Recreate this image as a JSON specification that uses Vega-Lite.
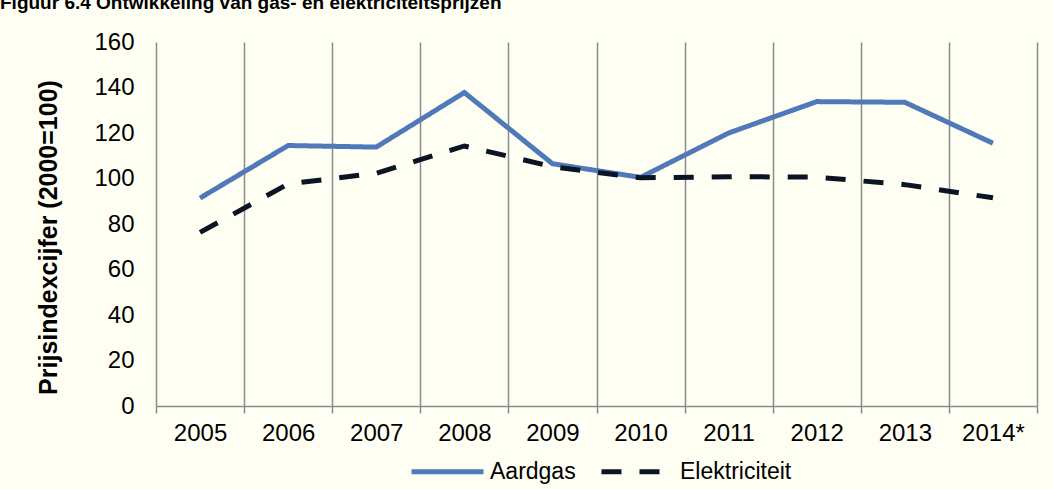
{
  "$schema": "https://vega.github.io/schema/vega-lite/v6.json",
  "autosize": "none",
  "width": 881,
  "height": 364,
  "padding": {"left": 156, "top": 42, "right": 16, "bottom": 83},
  "background": "#FEFEF3",
  "title": {
    "text": "Figuur 6.4 Ontwikkeling van gas- en elektriciteitsprijzen",
    "anchor": "start",
    "frame": "group",
    "orient": "top",
    "baseline": "bottom",
    "offset": -2,
    "dx": -156,
    "font": "Liberation Sans",
    "fontSize": 19,
    "fontWeight": "bold",
    "color": "#000000"
  },
  "data": {
    "values": [
      {"jaar": "2005", "reeks": "Aardgas", "index": 91.4},
      {"jaar": "2006", "reeks": "Aardgas", "index": 114.5},
      {"jaar": "2007", "reeks": "Aardgas", "index": 113.8},
      {"jaar": "2008", "reeks": "Aardgas", "index": 137.8},
      {"jaar": "2009", "reeks": "Aardgas", "index": 106.5},
      {"jaar": "2010", "reeks": "Aardgas", "index": 100.5},
      {"jaar": "2011", "reeks": "Aardgas", "index": 120.0},
      {"jaar": "2012", "reeks": "Aardgas", "index": 133.8},
      {"jaar": "2013", "reeks": "Aardgas", "index": 133.5},
      {"jaar": "2014*", "reeks": "Aardgas", "index": 115.5},
      {"jaar": "2005", "reeks": "Elektriciteit", "index": 76.3},
      {"jaar": "2006", "reeks": "Elektriciteit", "index": 97.6},
      {"jaar": "2007", "reeks": "Elektriciteit", "index": 102.3},
      {"jaar": "2008", "reeks": "Elektriciteit", "index": 114.3},
      {"jaar": "2009", "reeks": "Elektriciteit", "index": 105.2},
      {"jaar": "2010", "reeks": "Elektriciteit", "index": 100.3},
      {"jaar": "2011", "reeks": "Elektriciteit", "index": 100.8},
      {"jaar": "2012", "reeks": "Elektriciteit", "index": 100.6},
      {"jaar": "2013", "reeks": "Elektriciteit", "index": 97.3},
      {"jaar": "2014*", "reeks": "Elektriciteit", "index": 91.5}
    ]
  },
  "mark": {"type": "line", "strokeWidth": 5, "strokeCap": "butt", "strokeJoin": "miter"},
  "encoding": {
    "x": {
      "field": "jaar",
      "type": "ordinal",
      "sort": null,
      "scale": {"paddingInner": 0, "paddingOuter": 0},
      "axis": {
        "title": null,
        "labelAngle": 0,
        "tickBand": "extent",
        "grid": true,
        "gridColor": "#8C8C8C",
        "gridWidth": 1.5,
        "domainColor": "#8C8C8C",
        "domainWidth": 1.5,
        "tickColor": "#8C8C8C",
        "tickWidth": 1.5,
        "tickSize": 7,
        "labelPadding": 8,
        "labelFont": "Liberation Sans",
        "labelFontSize": 24,
        "labelColor": "#000000"
      }
    },
    "y": {
      "field": "index",
      "type": "quantitative",
      "scale": {"domain": [0, 160], "nice": false},
      "axis": {
        "title": "Prijsindexcijfer (2000=100)",
        "values": [0, 20, 40, 60, 80, 100, 120, 140, 160],
        "grid": false,
        "domain": false,
        "ticks": false,
        "labelPadding": 22,
        "labelFont": "Liberation Sans",
        "labelFontSize": 24,
        "labelColor": "#000000",
        "titleFont": "Liberation Sans",
        "titleFontSize": 25,
        "titleFontWeight": "bold",
        "titleColor": "#000000",
        "titlePadding": 32,
        "titleY": 195
      }
    },
    "color": {
      "field": "reeks",
      "type": "nominal",
      "scale": {"domain": ["Aardgas", "Elektriciteit"], "range": ["#4F79B8", "#0B1422"]},
      "legend": {
        "title": null,
        "orient": "none",
        "legendX": 253,
        "legendY": 391,
        "direction": "horizontal",
        "symbolType": "stroke",
        "symbolSize": 5184,
        "symbolStrokeWidth": 5,
        "labelFont": "Liberation Sans",
        "labelFontSize": 23,
        "labelColor": "#000000",
        "labelOffset": 4,
        "columnPadding": 15
      }
    },
    "strokeDash": {
      "field": "reeks",
      "type": "nominal",
      "scale": {"domain": ["Aardgas", "Elektriciteit"], "range": [[1, 0], [20, 18]]},
      "legend": null
    }
  },
  "config": {
    "view": {"stroke": null}
  }
}
